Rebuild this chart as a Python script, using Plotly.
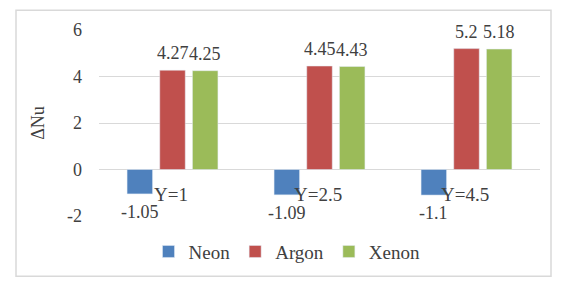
import plotly.graph_objects as go

categories = ["Y=1", "Y=2.5", "Y=4.5"]
neon = [-1.05, -1.09, -1.1]
argon = [4.27, 4.45, 5.2]
xenon = [4.25, 4.43, 5.18]
y_ticks = [-2, 0, 2, 4, 6]
y_tick_text = ["-2", "0", "2", "4", "6"]

FONT = "Times New Roman, Liberation Serif, serif"
TXT = "#404040"

OFF = 8  # default page body margin
W, H = 579 - OFF, 294 - OFF
L, R, T, B = 99 - OFF, 47 - OFF, 28 - OFF, 78
pw, ph = W - L - R, H - T - B
BARGAP, GROUPGAP = 0.333, 0.22
slot = pw / len(categories) * (1 - BARGAP) / 3

def px_x(x):
    return (x - OFF - L) / pw
def px_y(y):
    return (H - B - (y - OFF)) / ph

fig = go.Figure()
series = [("Neon", neon, "#4F81BD"), ("Argon", argon, "#C0504D"), ("Xenon", xenon, "#9BBB59")]
for i, (name, vals, col) in enumerate(series):
    fig.add_trace(go.Bar(name=name, x=categories, y=vals, marker_color=col))
    for c, v in zip(categories, vals):
        fig.add_annotation(x=c, y=v, xref="x", yref="y", text=str(v), showarrow=False,
                           xshift=(i - 1) * slot,
                           yanchor="bottom" if v >= 0 else "top",
                           yshift=5 if v >= 0 else -6,
                           font=dict(family=FONT, size=18, color=TXT))

for c in categories:
    fig.add_annotation(x=c, y=0, xref="x", yref="y", text=c, showarrow=False, xshift=-2,
                       yanchor="top", yshift=-12, font=dict(family=FONT, size=19, color=TXT))

fig.add_shape(type="rect", xref="paper", yref="paper",
              x0=px_x(16), x1=px_x(551), y0=px_y(277), y1=px_y(8),
              line=dict(color="#D9D9D9", width=1.5), fillcolor="rgba(0,0,0,0)", layer="below")

fig.update_layout(
    width=W, height=H,
    margin=dict(l=L, r=R, t=T, b=B),
    paper_bgcolor="white", plot_bgcolor="white",
    barmode="group", bargap=BARGAP, bargroupgap=GROUPGAP,
    showlegend=True,
    legend=dict(orientation="h", x=px_x(287), xanchor="center",
                y=px_y(252), yanchor="middle", itemwidth=30,
                font=dict(family=FONT, size=19, color=TXT), traceorder="normal"),
    xaxis=dict(showticklabels=False, showgrid=False, zeroline=False, showline=False),
    yaxis=dict(range=[-2, 6], tickvals=y_ticks, ticktext=y_tick_text, showgrid=True, gridcolor="#D9D9D9",
               zeroline=True, zerolinecolor="#D9D9D9", zerolinewidth=1,
               tickfont=dict(family=FONT, size=18, color=TXT), ticklabelstandoff=16,
               title=dict(text="ΔNu", font=dict(family=FONT, size=18, color=TXT), standoff=17)),
    font=dict(family=FONT),
)

fig.write_html("out.html")
